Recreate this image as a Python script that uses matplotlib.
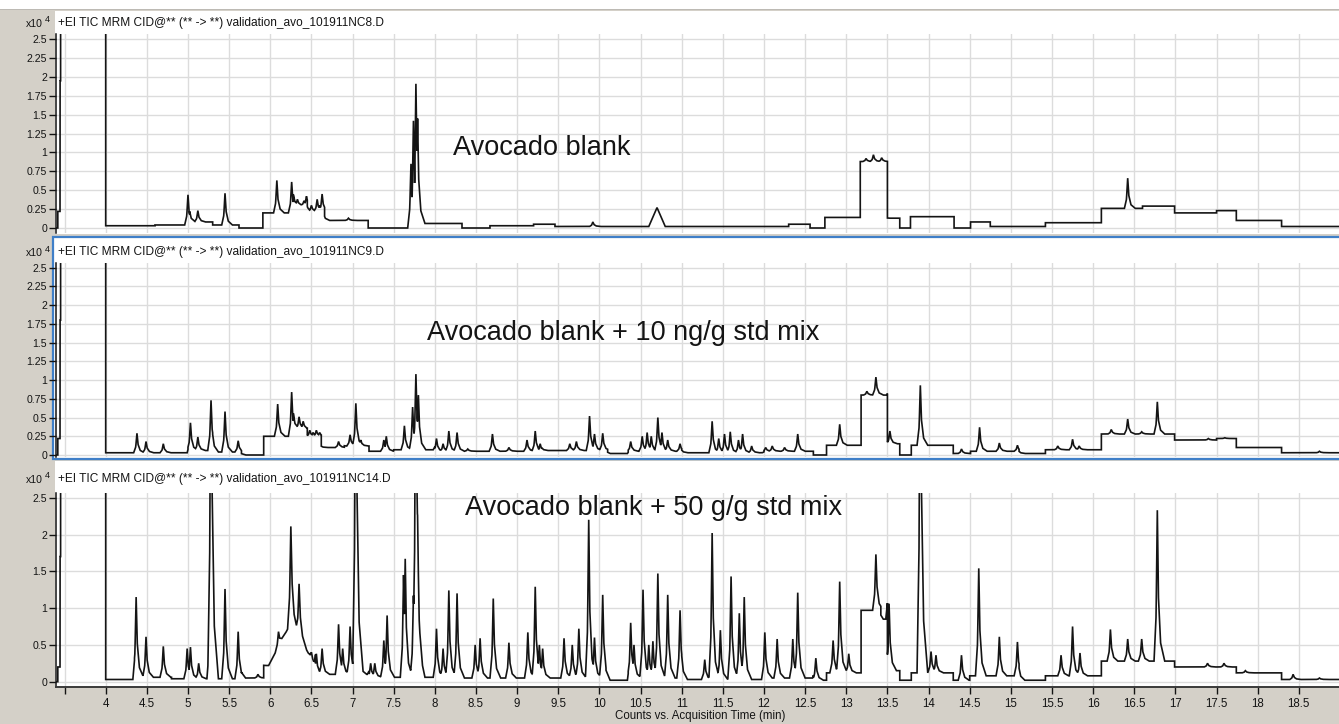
import numpy as np
import matplotlib.pyplot as plt
from matplotlib.patches import Rectangle

# ---------------------------------------------------------------------------
# TIC traces, counts in units of 10^4, time in minutes
# baseline = piecewise-constant MRM segment levels, peaks = apex time / height
# ---------------------------------------------------------------------------
blank_seg_t = [3.39, 3.418, 3.445, 3.452, 4.0, 4.6, 5.02, 5.3, 5.62, 5.91, 6.28, 6.45,
               6.66, 7.19, 7.78, 8.33, 8.67, 9.2, 9.46, 12.3, 12.56, 12.74, 13.17,
               13.50, 13.65, 13.78, 14.31, 14.51, 14.75, 15.42, 16.10, 16.6, 16.99,
               17.5, 17.74, 18.29]
blank_seg_lvl = [0.0, 0.22, 1.95, 6.0, 0.03, 0.04, 0.08, 0.04, 0.0, 0.2, 0.3, 0.22,
                 0.1, 0.0, 0.06, 0.0, 0.03, 0.05, 0.02, 0.05, 0.0, 0.14, 0.88,
                 0.13, 0.0, 0.15, 0.0, 0.08, 0.02, 0.07, 0.26, 0.29, 0.2,
                 0.23, 0.1, 0.02]
blank_hump_t = [10.70]
blank_hump_h = [0.25]
blank_hump_w = [0.10]
blank_pk_t = [5.00, 5.12, 5.45, 6.08, 6.26, 6.33, 6.41, 6.44, 6.50, 6.57, 6.60, 6.63,
              6.95, 7.71, 7.74, 7.77, 7.79, 9.92, 13.24, 13.33, 13.43, 16.42]
blank_pk_h = [0.44, 0.23, 0.46, 0.63, 0.61, 0.38, 0.36, 0.42, 0.30, 0.38, 0.30, 0.45,
              0.13, 0.85, 1.42, 1.91, 1.45, 0.08, 0.92, 0.97, 0.93, 0.66]

mid_seg_t = [3.39, 3.418, 3.445, 3.452, 4.0, 5.0, 5.3, 5.65, 5.92, 6.28, 6.45, 6.62,
             6.9, 7.2, 7.5, 8.0, 9.3, 10.1, 10.35, 11.0, 12.0, 12.6, 12.76, 13.18,
             13.50, 13.65, 13.79, 14.30, 14.51, 15.1, 15.42, 16.10, 16.99, 17.5,
             17.74, 18.29]
mid_seg_lvl = [0.0, 0.22, 1.8, 6.0, 0.03, 0.06, 0.04, 0.0, 0.25, 0.35, 0.25, 0.1,
               0.12, 0.05, 0.07, 0.05, 0.06, 0.02, 0.05, 0.03, 0.05, 0.0, 0.13, 0.8,
               0.15, 0.0, 0.13, 0.02, 0.05, 0.02, 0.07, 0.28, 0.2, 0.22,
               0.1, 0.03]
mid_hump_t = []
mid_hump_h = []
mid_hump_w = []
mid_pk_t = [4.38, 4.49, 4.70, 5.03, 5.12, 5.28, 5.45, 5.61, 6.09, 6.26, 6.35, 6.40,
            6.48, 6.52, 6.56, 6.60, 6.83, 6.97, 7.04, 7.10, 7.38, 7.41, 7.63, 7.73,
            7.77, 7.80, 8.02, 8.10, 8.17, 8.27, 8.40, 8.70, 8.90, 9.12, 9.22, 9.28,
            9.64, 9.72, 9.88, 9.94, 10.04, 10.38, 10.52, 10.58, 10.63, 10.71, 10.76,
            10.83, 10.98, 11.37, 11.45, 11.52, 11.59, 11.69, 11.74, 11.85, 12.02,
            12.10, 12.25, 12.41, 12.92, 13.25, 13.36, 13.53, 13.90, 14.40, 14.62,
            14.86, 15.08, 15.57, 15.75, 15.83, 16.22, 16.42, 16.59, 16.78, 17.40,
            17.60, 18.75]
mid_pk_h = [0.29, 0.18, 0.15, 0.43, 0.24, 0.73, 0.58, 0.19, 0.68, 0.84, 0.51, 0.45,
            0.33, 0.30, 0.33, 0.30, 0.18, 0.27, 0.69, 0.20, 0.20, 0.25, 0.39, 0.64,
            1.08, 0.80, 0.22, 0.15, 0.32, 0.30, 0.08, 0.28, 0.10, 0.20, 0.32, 0.15,
            0.15, 0.18, 0.52, 0.28, 0.29, 0.18, 0.25, 0.30, 0.25, 0.50, 0.30,
            0.20, 0.15, 0.45, 0.22, 0.28, 0.31, 0.20, 0.28, 0.12, 0.10,
            0.12, 0.10, 0.28, 0.41, 0.85, 1.04, 0.32, 0.93, 0.08, 0.37,
            0.16, 0.13, 0.12, 0.21, 0.12, 0.34, 0.48, 0.31, 0.71, 0.22,
            0.23, 0.05]

hi_seg_t = [3.39, 3.418, 3.445, 3.452, 4.0, 4.35, 4.8, 5.65, 5.92, 6.55, 7.2, 8.0,
            10.08, 10.35, 11.0, 12.0, 12.6, 12.76, 13.18, 13.42, 13.50, 13.65, 13.79,
            14.30, 14.50, 15.1, 15.42, 16.10, 16.99, 17.74, 18.29]
hi_seg_lvl = [0.0, 0.2, 1.7, 6.0, 0.03, 0.06, 0.04, 0.05, 0.22, 0.1, 0.06, 0.05,
              0.02, 0.05, 0.03, 0.05, 0.02, 0.12, 0.97, 0.85, 0.15, 0.02, 0.12,
              0.02, 0.08, 0.02, 0.08, 0.28, 0.2, 0.12, 0.03]
hi_hump_t = [6.26]
hi_hump_h = [0.6]
hi_hump_w = [0.28]
hi_pk_t = [4.37, 4.49, 4.70, 4.99, 5.03, 5.13, 5.27, 5.28, 5.45, 5.61, 5.85, 6.10,
           6.25, 6.35, 6.50, 6.56, 6.63, 6.83, 6.88, 6.97, 7.04, 7.08, 7.22, 7.27,
           7.38, 7.42, 7.62, 7.64, 7.74, 7.77, 7.79, 8.02, 8.10, 8.17, 8.27, 8.49,
           8.55, 8.71, 8.90, 9.13, 9.22, 9.27, 9.31, 9.57, 9.67, 9.75, 9.87, 9.94,
           10.04, 10.38, 10.42, 10.53, 10.60, 10.65, 10.71, 10.83, 10.98, 11.28,
           11.37, 11.47, 11.60, 11.70, 11.76, 12.01, 12.16, 12.35, 12.41, 12.63,
           12.84, 12.92, 13.03, 13.36, 13.52, 13.90, 14.03, 14.09, 14.40, 14.61,
           14.86, 15.08, 15.61, 15.75, 15.84, 16.21, 16.42, 16.59, 16.78, 17.39,
           17.59, 17.85, 18.43, 18.75]
hi_pk_h = [1.15, 0.61, 0.48, 0.45, 0.47, 0.25, 1.25, 6.0, 1.26, 0.68, 0.10, 0.68,
           2.11, 1.33, 0.40, 0.38, 0.45, 0.78, 0.45, 0.75, 6.0, 0.50, 0.25, 0.25,
           0.56, 0.90, 1.45, 1.67, 1.17, 6.0, 2.27, 0.72, 0.45, 1.24, 1.20, 0.50,
           0.59, 1.13, 0.53, 0.67, 1.29, 0.50, 0.45, 0.59, 0.50, 0.72, 2.20, 0.60,
           1.18, 0.80, 0.50, 1.25, 0.50, 0.55, 1.47, 1.18, 0.97, 0.30,
           2.02, 0.70, 1.43, 0.93, 1.15, 0.67, 0.58, 0.58, 1.21, 0.32,
           0.56, 1.36, 0.38, 1.73, 1.06, 6.0, 0.41, 0.36, 0.36, 1.54,
           0.61, 0.54, 0.36, 0.75, 0.39, 0.71, 0.58, 0.58, 2.33, 0.25,
           0.25, 0.15, 0.10, 0.05]

headers = ['+EI TIC MRM CID@** (** -> **) validation_avo_101911NC8.D',
           '+EI TIC MRM CID@** (** -> **) validation_avo_101911NC9.D',
           '+EI TIC MRM CID@** (** -> **) validation_avo_101911NC14.D']
titles = ['Avocado blank',
          'Avocado blank + 10 ng/g std mix',
          'Avocado blank + 50 g/g std mix']
title_pos = [(8.22, 1.06), (7.91, 1.63), (8.37, 2.36)]

x_ticks = [3.5, 4, 4.5, 5, 5.5, 6, 6.5, 7, 7.5, 8, 8.5, 9, 9.5, 10, 10.5, 11, 11.5,
           12, 12.5, 13, 13.5, 14, 14.5, 15, 15.5, 16, 16.5, 17, 17.5, 18, 18.5]
y_ticks_fine = [0, 0.25, 0.5, 0.75, 1, 1.25, 1.5, 1.75, 2, 2.25, 2.5]
y_ticks_coarse = [0, 0.5, 1, 1.5, 2, 2.5]

# peak template: offset from apex (min) -> fraction of apex height
PEAK_DT = [-0.04, -0.015, 0.0, 0.014, 0.04, 0.09]
PEAK_REL = [0.0, 0.3, 1.0, 0.42, 0.12, 0.0]


def background(tt, seg_t, seg_lvl, hump_t, hump_h, hump_w):
    tt = np.asarray(tt, float)
    idx = np.clip(np.searchsorted(seg_t, tt, side='right') - 1, 0, None)
    y = np.asarray(seg_lvl, float)[idx]
    for c, h, w in zip(hump_t, hump_h, hump_w):
        y = y + h * np.clip(1 - np.abs(tt - c) / w, 0, None)
    return y


def build_trace(seg_t, seg_lvl, hump_t, hump_h, hump_w, pk_t, pk_h):
    tt = np.arange(3.39, 19.0, 0.002)
    tt = np.union1d(tt, pk_t)
    tt = np.union1d(tt, np.asarray(seg_t) - 1e-4)
    tt = np.union1d(tt, seg_t)
    bg = background(tt, seg_t, seg_lvl, hump_t, hump_h, hump_w)
    amp = np.asarray(pk_h) - background(pk_t, seg_t, seg_lvl, hump_t, hump_h, hump_w)
    # overlapping peaks: keep the taller envelope so each apex stays at its height
    top = np.zeros_like(tt)
    for c, a in zip(pk_t, np.clip(amp, 0, None)):
        top = np.maximum(top, a * np.interp(tt - c, PEAK_DT, PEAK_REL, left=0, right=0))
    return tt, bg + top


traces = [
    build_trace(blank_seg_t, blank_seg_lvl, blank_hump_t, blank_hump_h, blank_hump_w,
                blank_pk_t, blank_pk_h),
    build_trace(mid_seg_t, mid_seg_lvl, mid_hump_t, mid_hump_h, mid_hump_w,
                mid_pk_t, mid_pk_h),
    build_trace(hi_seg_t, hi_seg_lvl, hi_hump_t, hi_hump_h, hi_hump_w,
                hi_pk_t, hi_pk_h),
]

# ---------------------------------------------------------------------------
# layout in pixels (1339 x 724 canvas)
# ---------------------------------------------------------------------------
W, H = 1339, 724
GRAY = '#d4d0c8'
INK = '#141414'
FONT = 'Liberation Sans'
plt.rcParams['font.family'] = FONT


def fig_box(x0, y0, x1, y1):
    return [x0 / W, 1 - y1 / H, (x1 - x0) / W, (y1 - y0) / H]


fig = plt.figure(figsize=(W / 100, H / 100), dpi=100)
fig.patch.set_facecolor(GRAY)

# white strip across the top and the white chart panels
fig.add_artist(Rectangle((0, 1 - 9 / H), 1, 9 / H, transform=fig.transFigure,
                         facecolor='white', edgecolor='none', zorder=0))
fig.add_artist(Rectangle((0, 1 - 10 / H), 1, 1.2 / H, transform=fig.transFigure,
                         facecolor='#bdbab4', edgecolor='none', zorder=0))
panel_px = [(55, 10.5, 1345, 234), (53, 236.5, 1345, 459), (55, 461, 1345, 687)]
for i, (x0, y0, x1, y1) in enumerate(panel_px):
    b = fig_box(x0, y0, x1, y1)
    fig.add_artist(Rectangle((b[0], b[1]), b[2], b[3], transform=fig.transFigure,
                             facecolor='white',
                             edgecolor='#3f7fc8' if i == 1 else 'none',
                             linewidth=1.6, zorder=0))

# axes rectangles and y-limits (pixel rows of 0 and 2.5 fixed per panel)
axes_px = [(55.5, 34, 1339, 233), (55.5, 263, 1339, 457), (55.5, 493, 1339, 687)]
zero_row = [228.0, 455.0, 681.7]
px_per_unit = [75.5, 74.9, 73.6]
header_row = [23, 252, 479]

for i in range(3):
    x0, y0, x1, y1 = axes_px[i]
    ax = fig.add_axes(fig_box(x0, y0, x1, y1))
    ax.set_facecolor('white')
    ax.patch.set_alpha(0)
    tt, yy = traces[i]
    ax.plot(tt, yy, color=INK, lw=1.2, solid_joinstyle='miter', zorder=3)

    ax.set_xlim(3.39 + (x0 - 55.5) / 82.3, 4 + (x1 - 105.5) / 82.3)
    ax.set_ylim((zero_row[i] - y1) / px_per_unit[i], (zero_row[i] - y0) / px_per_unit[i])

    yt = y_ticks_coarse if i == 2 else y_ticks_fine
    ax.set_yticks(yt)
    ax.set_yticklabels(['%g' % v for v in yt], fontsize=7.6, color=INK)
    ax.set_xticks(x_ticks)
    ax.tick_params(axis='y', direction='out', length=5, width=1, pad=1, color=INK)
    if i == 2:
        ax.set_xticklabels(['' if v == 3.5 else '%g' % v for v in x_ticks],
                           fontsize=8.3, color=INK)
        ax.tick_params(axis='x', direction='out', length=5, width=1, pad=3, color=INK)
    else:
        ax.set_xticklabels([])
        ax.tick_params(axis='x', length=0)

    ax.grid(True, color='#dcdcdc', lw=1)
    ax.set_axisbelow(True)
    for side in ['top', 'right']:
        ax.spines[side].set_visible(False)
    ax.spines['left'].set_color(INK)
    ax.spines['left'].set_linewidth(1.1)
    if i == 2:
        ax.spines['bottom'].set_color('#3a3a3a')
        ax.spines['bottom'].set_linewidth(1.4)
    else:
        ax.spines['bottom'].set_visible(False)

    ax.text(title_pos[i][0], title_pos[i][1], titles[i], fontsize=19.5,
            color=INK, ha='left', va='center', zorder=4)

    fig.text(58 / W, 1 - header_row[i] / H, headers[i], fontsize=8.6, color=INK,
             ha='left', va='center')
    fig.text(43 / W, 1 - (header_row[i] + 1) / H, 'x10', fontsize=7.6, color=INK,
             ha='right', va='center')
    fig.text(45 / W, 1 - (header_row[i] - 3) / H, '4', fontsize=6.5, color=INK,
             ha='left', va='center')

fig.text(700 / W, 1 - 716 / H, 'Counts vs. Acquisition Time (min)', fontsize=8.3,
         color=INK, ha='center', va='center')

fig.savefig('out.png', dpi=100, facecolor=fig.get_facecolor())
